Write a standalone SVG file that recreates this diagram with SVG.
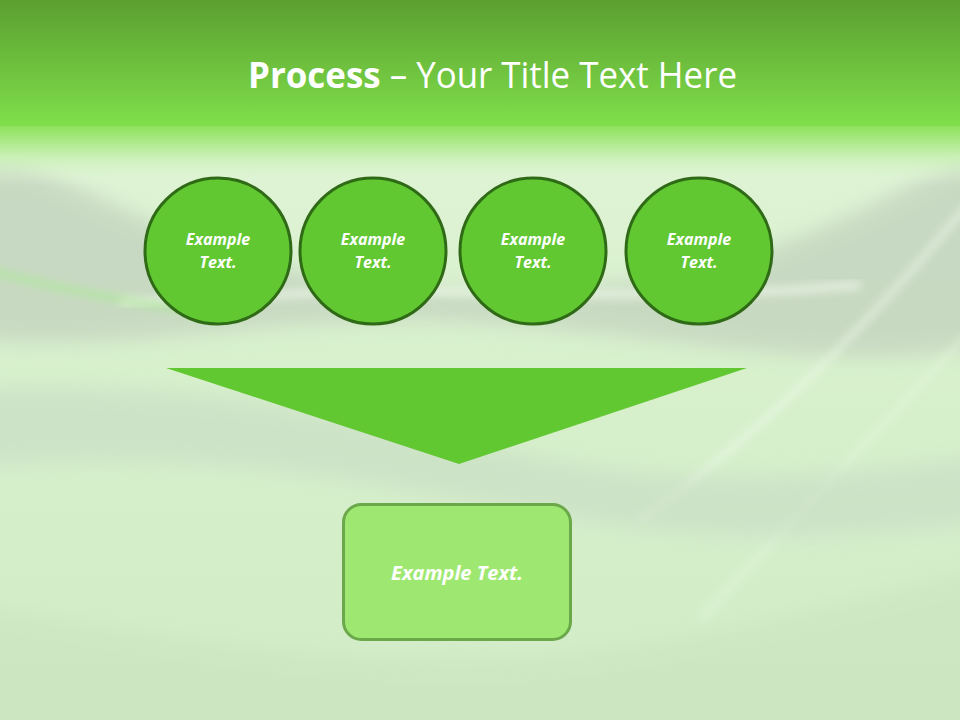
<svg xmlns="http://www.w3.org/2000/svg" width="960" height="720" viewBox="0 0 960 720">
<style>
.ct{font-family:"Open Sans","Liberation Sans",sans-serif;font-weight:bold;font-style:italic;font-size:16px;fill:#ffffff;text-anchor:middle}
.circ{fill:#62c832;stroke:#2f6a16;stroke-width:3}
</style>
<defs>
<linearGradient id="top" x1="0" y1="0" x2="0" y2="1">
<stop offset="0" stop-color="#5b9f30"/>
<stop offset="1" stop-color="#80e04b"/>
</linearGradient>
<linearGradient id="fade" x1="0" y1="0" x2="0" y2="1">
<stop offset="0" stop-color="#8ee25c"/>
<stop offset="0.5" stop-color="#c8f0b4"/>
<stop offset="1" stop-color="#e4f6dc" stop-opacity="0"/>
</linearGradient>
<linearGradient id="bg" x1="0" y1="0" x2="0" y2="1">
<stop offset="0" stop-color="#e4f6dc"/>
<stop offset="0.5" stop-color="#d8f0cc"/>
<stop offset="1" stop-color="#d2ecc8"/>
</linearGradient>
<filter id="blur" x="-20%" y="-30%" width="140%" height="160%"><feGaussianBlur stdDeviation="10"/></filter>
<filter id="blur2" x="-20%" y="-30%" width="140%" height="160%"><feGaussianBlur stdDeviation="4"/></filter>
</defs>
<g id="background">
<rect x="0" y="0" width="960" height="720" fill="url(#bg)"/>
<path d="M-60,130 C100,180 200,285 470,290 C700,294 830,240 1020,120 L1020,340 C830,380 700,335 470,322 C250,312 120,360 -60,335 Z" fill="#c4d4c0" opacity="0.8" filter="url(#blur)"/>
<path d="M120,302 C260,296 340,290 470,292 C620,294 720,298 860,285" fill="none" stroke="#f2fbee" stroke-width="7" opacity="0.7" filter="url(#blur2)"/>
<path d="M-20,268 C60,290 120,300 200,312" fill="none" stroke="#a8ec90" stroke-width="6" opacity="0.7" filter="url(#blur2)"/>
<path d="M980,190 C890,300 780,420 640,520" fill="none" stroke="#f0fbec" stroke-width="5" opacity="0.7" filter="url(#blur2)"/>
<path d="M980,320 C890,420 790,520 700,620" fill="none" stroke="#e8f8e0" stroke-width="4" opacity="0.7" filter="url(#blur2)"/>
<path d="M-60,390 C150,380 300,400 460,440 C600,470 700,500 1020,450 L1020,520 C700,560 600,520 460,500 C300,470 150,450 -60,470 Z" fill="#c8dcc4" opacity="0.6" filter="url(#blur)"/>
<path d="M-60,600 C200,640 400,680 600,650 C750,630 850,600 1020,560 L1020,760 L-60,760 Z" fill="#c6e2bc" opacity="0.5" filter="url(#blur)"/>
<rect x="0" y="0" width="960" height="128" fill="url(#top)"/>
<rect x="0" y="126" width="960" height="60" fill="url(#fade)"/>
</g>
<g id="title">
<text x="248" y="88" textLength="489" lengthAdjust="spacingAndGlyphs" font-family="'Open Sans','Liberation Sans',sans-serif" font-size="36" fill="#ffffff"><tspan font-weight="bold">Process</tspan> – Your Title Text Here</text>
</g>
<g id="node1">
<circle class="circ" cx="218" cy="251" r="73"/>
<text class="ct" x="218" y="245">Example</text>
<text class="ct" x="218" y="268">Text.</text>
</g>
<g id="node2">
<circle class="circ" cx="373" cy="251" r="73"/>
<text class="ct" x="373" y="245">Example</text>
<text class="ct" x="373" y="268">Text.</text>
</g>
<g id="node3">
<circle class="circ" cx="533" cy="251" r="73"/>
<text class="ct" x="533" y="245">Example</text>
<text class="ct" x="533" y="268">Text.</text>
</g>
<g id="node4">
<circle class="circ" cx="699" cy="251" r="73"/>
<text class="ct" x="699" y="245">Example</text>
<text class="ct" x="699" y="268">Text.</text>
</g>
<g id="connectors">
<polygon points="166,368 747,368 459,464" fill="#62c832"/>
</g>
<g id="result">
<rect x="343.5" y="504.5" width="227" height="135" rx="18" fill="#9ee872" stroke="#6aa84a" stroke-width="3"/>
<text x="457" y="580" font-family="'Open Sans','Liberation Sans',sans-serif" font-weight="bold" font-style="italic" font-size="20" fill="#ffffff" text-anchor="middle">Example Text.</text>
</g>
</svg>
